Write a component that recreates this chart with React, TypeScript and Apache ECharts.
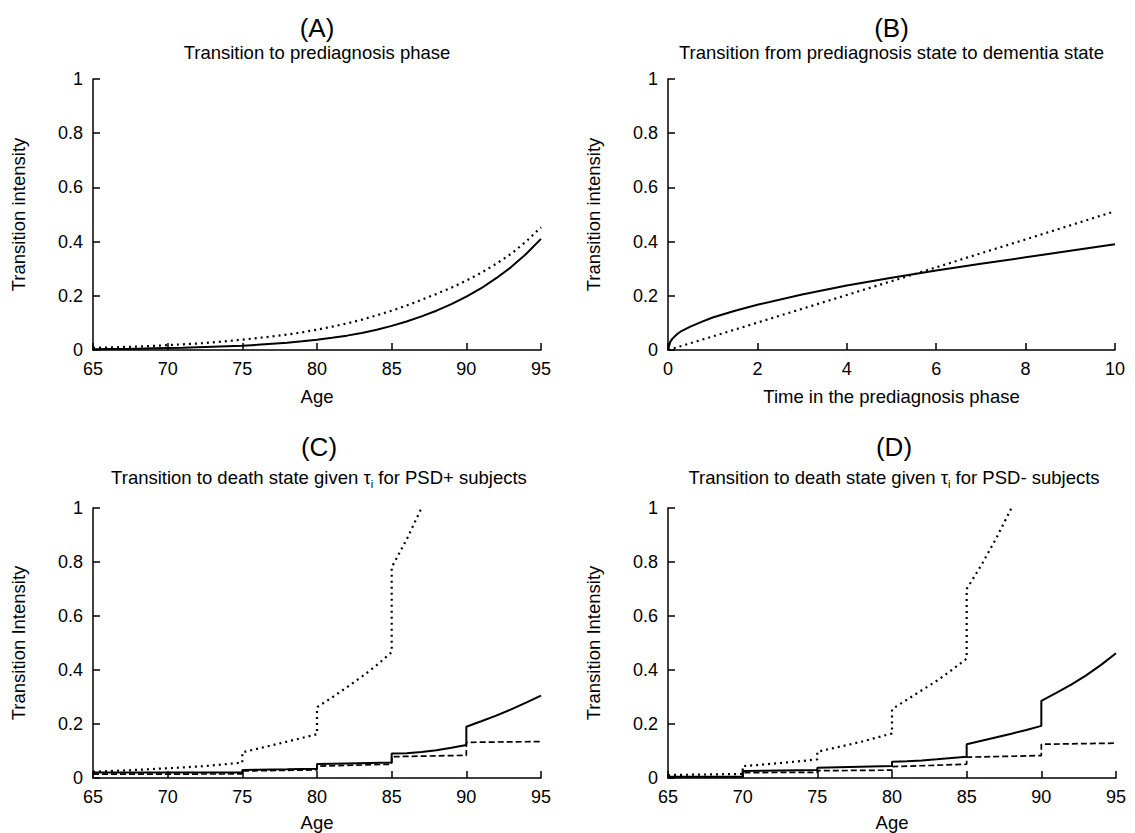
import React, { useEffect, useRef } from "react";
import * as echarts from "echarts";

// ---------- Data ----------
// Panel A: transition to prediagnosis phase (by age)
const ageA = [65, 66, 67, 68, 69, 70, 71, 72, 73, 74, 75, 76, 77, 78, 79, 80, 81, 82, 83, 84, 85, 86, 87, 88, 89, 90, 91, 92, 93, 94, 95];
const aSolid = [0.003, 0.0035, 0.004, 0.005, 0.006, 0.007, 0.008, 0.01, 0.012, 0.014, 0.016, 0.019, 0.023, 0.027, 0.032, 0.038, 0.045, 0.053, 0.063, 0.075, 0.089, 0.105, 0.124, 0.145, 0.169, 0.197, 0.228, 0.265, 0.306, 0.354, 0.41];
const aDotted = [0.008, 0.009, 0.011, 0.013, 0.015, 0.018, 0.021, 0.024, 0.028, 0.033, 0.038, 0.044, 0.05, 0.057, 0.065, 0.075, 0.086, 0.098, 0.112, 0.128, 0.145, 0.164, 0.185, 0.207, 0.23, 0.256, 0.285, 0.318, 0.355, 0.4, 0.453];

// Panel B: prediagnosis -> dementia (by time in prediagnosis phase)
const tBSolid = [0, 0.05, 0.1, 0.2, 0.3, 0.5, 0.75, 1, 1.5, 2, 3, 4, 5, 6, 7, 8, 9, 10];
const bSolid = [0, 0.03, 0.042, 0.058, 0.07, 0.086, 0.104, 0.12, 0.145, 0.167, 0.205, 0.238, 0.267, 0.293, 0.318, 0.342, 0.366, 0.39];
const tBDotted = [0, 1, 2, 3, 4, 5, 6, 7, 8, 9, 10];
const bDotted = [0, 0.05, 0.101, 0.152, 0.203, 0.254, 0.305, 0.357, 0.408, 0.46, 0.512];

// Panel C: death given tau_i, PSD+ subjects
const cSolidX = [65, 70, 75, 75, 76, 78, 80, 80, 82, 85, 85, 86, 87, 88, 89, 90, 90, 91, 92, 93, 94, 95];
const cSolidY = [0.02, 0.02, 0.02, 0.03, 0.031, 0.032, 0.034, 0.052, 0.054, 0.057, 0.091, 0.092, 0.096, 0.103, 0.112, 0.122, 0.19, 0.21, 0.231, 0.254, 0.279, 0.305];
const cDashX = [65, 75, 75, 80, 80, 85, 85, 90, 90, 95];
const cDashY = [0.014, 0.015, 0.026, 0.03, 0.044, 0.051, 0.079, 0.084, 0.132, 0.135];
const cDotX = [65, 67.5, 70, 72.5, 75, 75, 77.5, 80, 80, 81, 82, 83, 84, 85, 85, 86, 87];
const cDotY = [0.023, 0.029, 0.036, 0.044, 0.057, 0.095, 0.128, 0.162, 0.262, 0.298, 0.336, 0.375, 0.418, 0.466, 0.78, 0.883, 1.0];

// Panel D: death given tau_i, PSD- subjects
const dSolidX = [65, 70, 70, 75, 75, 80, 80, 81, 82, 83, 84, 85, 85, 86, 87, 88, 89, 90, 90, 91, 92, 93, 94, 95];
const dSolidY = [0.005, 0.005, 0.026, 0.03, 0.038, 0.044, 0.06, 0.062, 0.065, 0.069, 0.074, 0.079, 0.125, 0.138, 0.151, 0.164, 0.178, 0.193, 0.286, 0.315, 0.346, 0.38, 0.419, 0.462];
const dDashX = [65, 70, 70, 75, 75, 80, 80, 85, 85, 90, 90, 95];
const dDashY = [0.003, 0.003, 0.02, 0.021, 0.027, 0.029, 0.042, 0.051, 0.077, 0.083, 0.125, 0.129];
const dDotX = [65, 70, 70, 71, 72, 73, 74, 75, 75, 76, 77, 78, 79, 80, 80, 81, 82, 83, 84, 85, 85, 86, 87, 88];
const dDotY = [0.011, 0.015, 0.044, 0.048, 0.053, 0.058, 0.063, 0.069, 0.097, 0.11, 0.122, 0.135, 0.15, 0.165, 0.255, 0.29, 0.325, 0.36, 0.4, 0.442, 0.7, 0.79, 0.89, 1.0];

const panelLetters = ["(A)", "(B)", "(C)", "(D)"];
const panelSubtitles = [
  "Transition to prediagnosis phase",
  "Transition from prediagnosis state to dementia state",
  "Transition to death state given {tau|τ}{sub|i} for PSD+ subjects",
  "Transition to death state given {tau|τ}{sub|i} for PSD- subjects",
];
const xNames = ["Age", "Time in the prediagnosis phase", "Age", "Age"];
const yNames = ["Transition intensity", "Transition intensity", "Transition Intensity", "Transition Intensity"];

// ---------- Layout ----------
const FONT = "'Liberation Sans', Arial, Helvetica, sans-serif";
const grids = [
  { left: 93, top: 79, width: 448, height: 271 },
  { left: 668, top: 79, width: 447, height: 271 },
  { left: 93, top: 508, width: 448, height: 270 },
  { left: 668, top: 508, width: 448, height: 270 },
];
const xRanges = [
  { min: 65, max: 95, interval: 5 },
  { min: 0, max: 10, interval: 2 },
  { min: 65, max: 95, interval: 5 },
  { min: 65, max: 95, interval: 5 },
];

const zip = (xs: number[], ys: number[]) => xs.map((x, i) => [x, ys[i]]);

const SOLID = { color: "#000", width: 2, type: "solid" as const };
const DOTTED = { color: "#000", width: 2.2, type: [2, 4], cap: "butt" as const };
const DASHED = { color: "#000", width: 1.7, type: [6, 3], cap: "butt" as const };

function line(idx: number, data: number[][], style: any) {
  return {
    type: "line",
    xAxisIndex: idx,
    yAxisIndex: idx,
    data,
    showSymbol: false,
    symbol: "none",
    lineStyle: style,
    clip: true,
    silent: true,
  };
}

export default function App() {
  const ref = useRef<HTMLDivElement>(null);
  useEffect(() => {
    if (!ref.current) return;
    const chart = echarts.init(ref.current, undefined, { renderer: "svg" });

    const axisLine = { show: true, onZero: false, lineStyle: { color: "#000", width: 1.5 } };
    const axisTick = { show: true, inside: true, length: 7, lineStyle: { color: "#000", width: 1.5 } };

    const xAxis = grids.map((_, i) => ({
      type: "value",
      gridIndex: i,
      min: xRanges[i].min,
      max: xRanges[i].max,
      interval: xRanges[i].interval,
      axisLine,
      axisTick,
      splitLine: { show: false },
      axisLabel: { color: "#000", fontSize: 18, fontFamily: FONT, margin: 10 },
      name: xNames[i],
      nameLocation: "middle",
      nameGap: i < 2 ? 37 : 35,
      nameTextStyle: { color: "#000", fontSize: 18.5, fontFamily: FONT },
    }));
    const yAxis = grids.map((_, i) => ({
      type: "value",
      gridIndex: i,
      min: 0,
      max: 1,
      interval: 0.2,
      axisLine,
      axisTick,
      splitLine: { show: false },
      axisLabel: { color: "#000", fontSize: 18, fontFamily: FONT, margin: 10 },
      name: yNames[i],
      nameLocation: "middle",
      nameGap: 65,
      nameTextStyle: { color: "#000", fontSize: 18.5, fontFamily: FONT },
    }));

    const titleY = [
      [28, 52],
      [28, 52],
      [447, 477],
      [447, 477],
    ];
    const graphic: any[] = [];
    grids.forEach((g, i) => {
      const cx = g.left + g.width / 2 + (i >= 2 ? 2 : 0);
      graphic.push({
        type: "text",
        x: cx,
        y: titleY[i][0],
        silent: true,
        style: {
          text: panelLetters[i],
          fontSize: 26,
          fontFamily: FONT,
          fill: "#000",
          align: "center",
          verticalAlign: "middle",
        },
      });
      graphic.push({
        type: "text",
        x: cx,
        y: titleY[i][1],
        silent: true,
        style: {
          text: panelSubtitles[i],
          fontSize: 18.5,
          fontFamily: FONT,
          fill: "#000",
          align: "center",
          verticalAlign: "middle",
          lineHeight: 24,
          rich: {
            tau: { fontSize: 18.5, fontFamily: FONT, fill: "#000", lineHeight: 24 },
            sub: { fontSize: 11, fontFamily: FONT, fill: "#000", verticalAlign: "bottom", lineHeight: 24 },
          },
        },
      });
    });

    chart.setOption({
      animation: false,
      backgroundColor: "#fff",
      grid: grids.map((g) => ({ ...g, containLabel: false })),
      xAxis,
      yAxis,
      graphic,
      series: [
        line(0, zip(ageA, aDotted), DOTTED),
        line(0, zip(ageA, aSolid), SOLID),
        line(1, zip(tBDotted, bDotted), DOTTED),
        line(1, zip(tBSolid, bSolid), SOLID),
        line(2, zip(cDotX, cDotY), DOTTED),
        line(2, zip(cDashX, cDashY), DASHED),
        line(2, zip(cSolidX, cSolidY), SOLID),
        line(3, zip(dDotX, dDotY), DOTTED),
        line(3, zip(dDashX, dDashY), DASHED),
        line(3, zip(dSolidX, dSolidY), SOLID),
      ],
    });
    return () => chart.dispose();
  }, []);

  return (
    <div
      ref={ref}
      style={{ position: "absolute", left: 0, top: 0, width: 1135, height: 833, background: "#fff" }}
    />
  );
}
